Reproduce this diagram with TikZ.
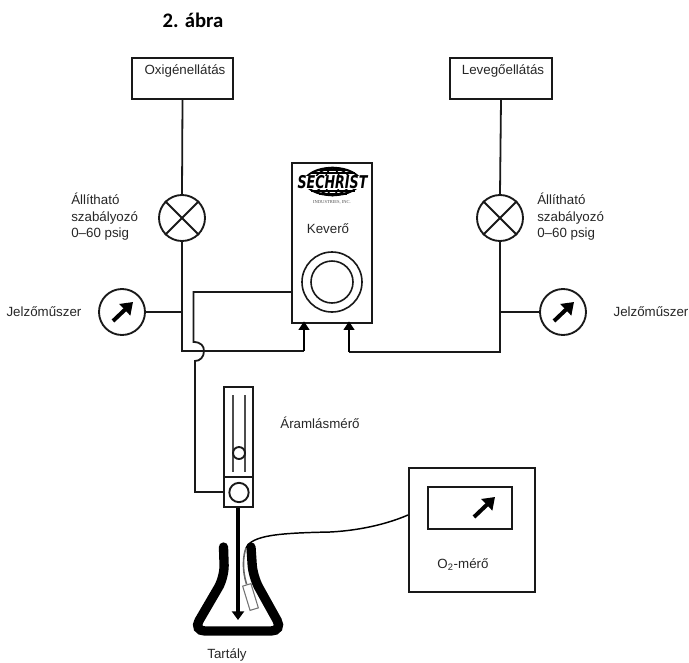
\documentclass[tikz,border=0pt]{standalone}
\usepackage{fontspec}
\setmainfont{Liberation Sans}
\newfontfamily\titlefont{Carlito}
\newfontfamily\logoserif{Liberation Serif}
\newfontfamily\logofont{DejaVu Sans}
\usetikzlibrary{arrows.meta,shapes.geometric}
\tikzset{
  pipe/.style={line width=1.35pt,black!90},
  feed/.style={line width=2.1pt,black,-{Triangle[length=6.5pt,width=8pt]}},
  unitbox/.style={draw=black!90,line width=1.45pt,rectangle,inner sep=0pt},
  dial/.style={draw=black!90,line width=1.4pt,circle,inner sep=0pt,minimum size=46pt*0.75},
  needle/.style={line width=3pt,black,-{Triangle[length=8.5pt,width=11.5pt]}},
  lbl/.style={inner sep=0pt,font=\fontsize{10}{12.4}\selectfont,text=black!85}
}
\begin{document}
\begin{tikzpicture}[x=0.75pt,y=-0.75pt]
      \useasboundingbox (0,0) rectangle (689,662);
      \node[inner sep=0pt,font=\titlefont\bfseries\fontsize{15.5}{17}\selectfont] (title) at (193,20) {2. ábra};
      \node[unitbox,minimum width=76pt,minimum height=31pt] (oxbox) at (182.5,78.5) {};
      \node[unitbox,minimum width=76pt,minimum height=31pt] (airbox) at (501,78.5) {};
      \node[lbl] (oxtext) at (185,71) {Oxigénellátás};
      \node[lbl] (airtext) at (503,71) {Levegőellátás};
      \node[dial] (oxreg) at (182,218) {};
      \node[dial] (airreg) at (500,218) {};
      \foreach \r in {oxreg,airreg} {
        \draw[pipe] (\r.45) -- (\r.225);
        \draw[pipe] (\r.135) -- (\r.315);
      }
      \node[lbl,align=left,anchor=west] (oxreglabel) at (71,217) {Állítható\\szabályozó\\0–60 psig};
      \node[lbl,align=left,anchor=west] (airreglabel) at (537,217) {Állítható\\szabályozó\\0–60 psig};
      \node[dial] (oxgauge) at (122,312) {};
      \node[dial] (airgauge) at (563,312) {};
      \foreach \g in {oxgauge,airgauge}
        \draw[needle] ([shift={(-9,9)}]\g.center) -- ([shift={(11,-10)}]\g.center);
      \node[lbl] (oxgaugelabel) at (44,312) {Jelzőműszer};
      \node[lbl] (airgaugelabel) at (651,312) {Jelzőműszer};
      \node[unitbox,minimum width=60pt,minimum height=120pt] (mixer) at (332,243) {};
      \node[draw,fill=none,ellipse,line width=1.1pt,minimum width=41pt,minimum height=21pt,inner sep=0pt] (globe) at (332.5,181.5) {};
      \foreach \w in {10,24,38}
        \draw[line width=1.1pt] (332.5,167.5) .. controls (332.5-\w,172) and (332.5-\w,191) .. (332.5,195.5)
          .. controls (332.5+\w,191) and (332.5+\w,172) .. (332.5,167.5);
      \foreach \h/\s in {170/14,173/22,191/22,194/14}
        \draw[line width=1.5pt] (332.5-\s,\h) -- (332.5+\s,\h);
      \fill[white] (295,175.5) rectangle (370,188.5);
      \node[inner sep=0pt,xscale=0.72,font=\logofont\bfseries\itshape\fontsize{13.2}{15}\selectfont] (logo) at (332.5,182) {SECHRIST};
      \node[inner sep=0pt,text=black!70,font=\logoserif\fontsize{3.4}{4}\selectfont] (logosub) at (332,202) {INDUSTRIES, INC.};
      \node[lbl] (mixertext) at (328,229) {Keverő};
      \node[draw=black!90,line width=1.2pt,circle,minimum size=45pt,inner sep=0pt] (knobout) at (332,282) {};
      \node[draw=black!90,line width=1.2pt,circle,minimum size=31.5pt,inner sep=0pt] (knobin) at (332,282) {};
      \node[unitbox,minimum width=21.75pt,minimum height=67.5pt] (fmtube) at (238.5,432) {};
      \node[unitbox,minimum width=21.75pt,minimum height=22.5pt] (fmbase) at (238.5,492) {};
      \draw[line width=1.7pt,black!70] (233,395) -- (233,472);
      \draw[line width=1.7pt,black!70] (245,395) -- (245,472);
      \node[draw=black!90,fill=white,line width=1.4pt,circle,minimum size=9pt,inner sep=0pt] (fmfloat) at (239,453) {};
      \node[draw=black!90,line width=1.4pt,circle,minimum size=14.5pt,inner sep=0pt] (fmball) at (239,492.5) {};
      \node[lbl] (fmlabel) at (320,423) {Áramlásmérő};
      \coordinate (oxin) at (304,351);
      \coordinate (airin) at (349,352);
      \coordinate (mixport) at (292,292);
      \coordinate (jumptop) at (193.5,342);
      \coordinate (jumpbot) at (195,361);
      \coordinate (oxtee) at (182,312);
      \coordinate (airtee) at (500,312);
      \draw[pipe] (oxbox.south) -- (oxreg.north);
      \draw[pipe] (airbox.south) -- (airreg.north);
      \draw[pipe,line join=miter] (oxreg.south) |- (oxin);
      \draw[pipe,line join=miter] (airreg.south) |- (airin);
      \draw[pipe] (oxgauge.east) -- (oxtee);
      \draw[pipe] (airgauge.west) -- (airtee);
      \draw[feed] (oxin) -- ([yshift=2pt]oxin |- mixer.south);
      \draw[feed] (airin) -- ([yshift=2pt]airin |- mixer.south);
      \draw[pipe] (mixport) -| (jumptop) .. controls (201,342) and (204,346) .. (204,351)
        .. controls (204,357) and (200,361) .. (jumpbot) |- (fmbase.west);
      \draw[line width=7pt,line cap=round,rounded corners=9pt] (223.5,547) -- (224.5,577) -- (193,631) -- (283,631) -- (253,577) -- (251,547);
      \coordinate (flaskfloor) at (238,620);
      \draw[line width=2.3pt,black,-{Triangle[length=6.5pt,width=9pt]}] (fmbase.south -| flaskfloor) -- (flaskfloor);
      \node[unitbox,minimum width=94.5pt,minimum height=93pt] (o2box) at (472,530) {};
      \node[unitbox,minimum width=63pt,minimum height=31.5pt] (o2screen) at (470,508) {};
      \draw[needle] ([shift={(4,9)}]o2screen.center) -- ([shift={(25,-11)}]o2screen.center);
      \node[lbl] (o2label) at (463,565) {O\textsubscript{2}-mérő};
      \node[lbl] (tank) at (227,655) {Tartály};
      \node[draw=black!55,fill=white,line width=0.8pt,rectangle,minimum width=6.5pt,minimum height=19pt,inner sep=0pt,rotate=17] (probe) at (250.5,597) {};
      \coordinate (o2port) at (o2box.west |- 0,515);
      \coordinate (cablebend) at (246,548);
      \draw[line width=1.1pt,black] (o2port) .. controls (380,527) and (350,531) .. (330,532)
        .. controls (280,533) and (252,535) .. (cablebend);
      \draw[line width=1.2pt,black!60] (cablebend) .. controls (243,556) and (242,570) .. (probe.north);
\end{tikzpicture}
\end{document}
